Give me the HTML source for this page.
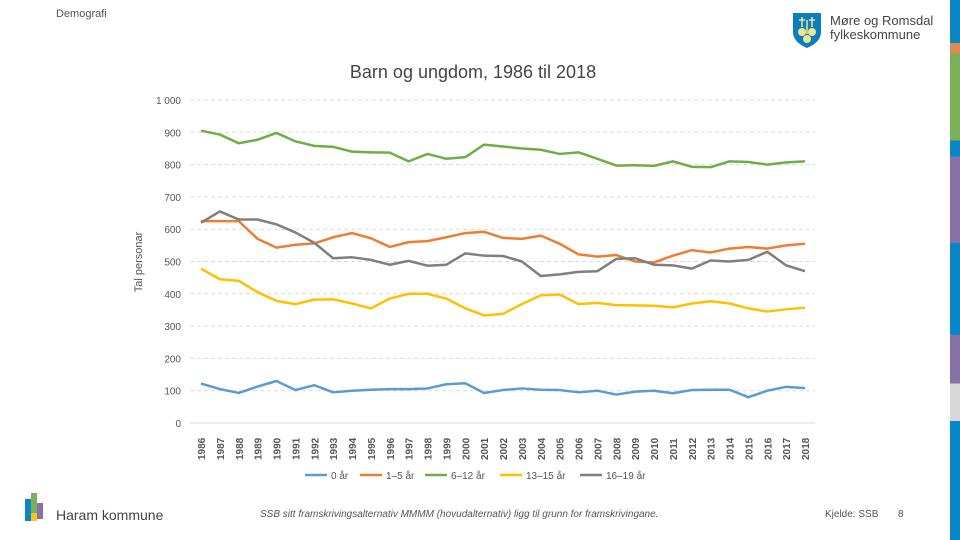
<!DOCTYPE html>
<html><head><meta charset="utf-8"><style>
body{margin:0;width:960px;height:540px;overflow:hidden;background:#fff;font-family:"Liberation Sans",sans-serif;position:relative}
.abs{position:absolute}
</style></head><body>
<div class="abs" style="left:56px;top:8px;font-size:11px;color:#555">Demografi</div>
<div class="abs" style="left:792px;top:12px;width:30px;height:36px">
<svg width="30" height="36"><path d="M1 1H29V20Q29 30 15 36Q1 30 1 20Z" fill="#0a7fc0"/><circle cx="10" cy="20" r="4" fill="#f3e58a"/><circle cx="20" cy="20" r="4" fill="#f3e58a"/><circle cx="15" cy="27" r="4" fill="#f3e58a"/><path d="M10 5v10M15 8v14M20 5v10M7 8h6M17 8h6" stroke="#f3e58a" stroke-width="1.5"/></svg></div>
<div class="abs" style="left:830px;top:14px;font-size:13px;line-height:14px;color:#444">Møre og Romsdal<br>fylkeskommune</div>
<div class="abs" style="left:950px;top:0;width:10px;height:540px;background:linear-gradient(#0a86c4 0 8%,#d98b5a 8% 10%,#7ab05a 10% 26%,#0a86c4 26% 29%,#8a70a8 29% 45%,#0a86c4 45% 62%,#8a70a8 62% 71%,#d8d8d8 71% 78%,#0a86c4 78%)"></div>
<div class="abs" style="left:0;width:946px;top:62px;text-align:center;font-size:18px;color:#444">Barn og ungdom, 1986 til 2018</div>
<svg class="abs" style="left:0;top:0" width="960" height="540" id="chart"></svg>
<div class="abs" style="left:25px;top:493px;width:18px;height:34px">
<div class="abs" style="left:0;top:6px;width:6px;height:22px;background:#0a86c4"></div><div class="abs" style="left:6px;top:0;width:6px;height:20px;background:#7ab05a"></div><div class="abs" style="left:12px;top:10px;width:6px;height:16px;background:#8a70a8"></div><div class="abs" style="left:6px;top:20px;width:6px;height:8px;background:#f3c81a"></div></div>
<div class="abs" style="left:56px;top:507px;font-size:14px;color:#444">Haram kommune</div>
<div class="abs" style="left:260px;top:509px;font-size:10px;font-style:italic;color:#555">SSB sitt framskrivingsalternativ MMMM (hovudalternativ) ligg til grunn for framskrivingane.</div>
<div class="abs" style="left:825px;top:509px;font-size:10px;color:#555">Kjelde: SSB</div>
<div class="abs" style="left:898px;top:509px;font-size:10px;color:#555">8</div>
<script>
const years=[];for(let y=1986;y<=2018;y++)years.push(String(y));
const yTicks=[0,100,200,300,400,500,600,700,800,900,1000];
const yTickLabels=["0","100","200","300","400","500","600","700","800","900","1 000"];
const seriesNames=["0 år","1–5 år","6–12 år","13–15 år","16–19 år"];
const seriesColors=["#5b9bd5","#ed7d31","#70ad47","#ffc000","#7f7f7f"];
const s0=[122,105,93,113,130,102,117,95,100,103,105,105,107,120,123,93,102,107,103,102,95,100,88,97,100,92,102,103,103,80,100,112,108];
const s1=[625,625,625,570,543,552,556,575,588,572,545,560,563,575,588,592,573,570,580,555,522,515,520,500,497,518,535,528,540,545,540,550,555];
const s2=[905,893,866,877,898,872,858,855,840,838,837,810,833,818,823,862,856,850,846,833,838,818,797,798,796,810,793,792,810,808,800,807,810];
const s3=[478,445,440,405,378,368,382,383,370,355,385,400,400,385,355,333,338,368,395,398,368,372,365,364,363,358,370,377,370,355,345,352,357];
const s4=[620,655,630,630,615,590,558,510,513,505,490,502,487,490,525,518,517,500,455,460,468,470,508,510,490,488,478,503,500,505,530,488,470];
const allSeries=[s0,s1,s2,s3,s4];
const NS="http://www.w3.org/2000/svg",svg=document.getElementById('chart');
const X0=201,X1=805,Y0=423,Y1=100;
const xs=i=>X0+(X1-X0)*i/(years.length-1);
const ys=v=>Y0-(Y0-Y1)*v/1000;
function mk(t,a){const e=document.createElementNS(NS,t);for(const k in a)e.setAttribute(k,a[k]);svg.appendChild(e);return e;}
yTicks.forEach((v,i)=>{
 if(v>0){const g=mk('line',{x1:190,x2:815,y1:ys(v),y2:ys(v),stroke:'#d9d9d9','stroke-dasharray':'4 3'});
 
 }
 const t=mk('text',{x:181,y:ys(v)+4,'text-anchor':'end','font-size':'10',fill:'#555'});t.textContent=yTickLabels[i];
 
 
});
const ax=mk('line',{x1:190,x2:815,y1:Y0,y2:Y0,stroke:'#d9d9d9'});


years.forEach((yr,i)=>{
 const t=mk('text',{x:0,y:0,transform:`translate(${xs(i)+4},${460}) rotate(-90)`,'font-size':'10','font-weight':'bold',fill:'#555'});t.textContent=yr;
 
 
});
const yt=mk('text',{x:0,y:0,transform:'translate(142,262) rotate(-90)','text-anchor':'middle','font-size':'11',fill:'#555'});yt.textContent='Tal personar';


allSeries.forEach((s,k)=>{
 const p=mk('polyline',{points:s.map((v,i)=>xs(i)+','+ys(v)).join(' '),fill:'none',stroke:seriesColors[k],'stroke-width':'2.5','stroke-linejoin':'round'});
 
 
});
const lx=[305,360,425,500,580];
seriesNames.forEach((n,k)=>{
 const l=mk('line',{x1:lx[k],x2:lx[k]+22,y1:475,y2:475,stroke:seriesColors[k],'stroke-width':'2.5'});
 
 
 const t=mk('text',{x:lx[k]+26,y:479,'font-size':'10',fill:'#555'});t.textContent=n;
 
 
});
</script>
</body></html>
